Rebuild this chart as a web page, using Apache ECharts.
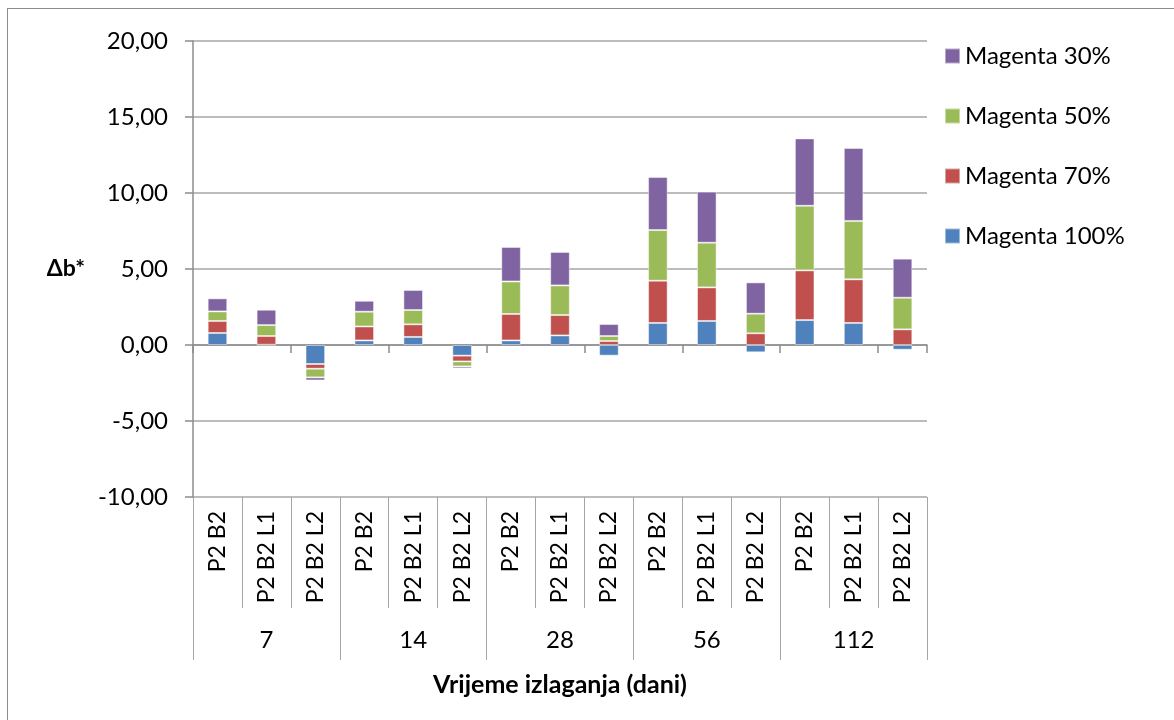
<!DOCTYPE html>
<html>
<head>
<meta charset="utf-8">
<script src="https://cdn.jsdelivr.net/npm/echarts@6/dist/echarts.min.js"></script>
<style>
html,body{margin:0;padding:0;background:#fff;overflow:hidden;}
#frame{position:absolute;left:7px;top:8px;width:1300px;height:900px;border:1px solid #8c8c8c;box-sizing:border-box;}
#chart{position:absolute;left:0;top:0;width:1174px;height:720px;}
</style>
</head>
<body>
<div id="frame"></div>
<div id="chart"></div>
<script>
const subCategories = ['P2 B2','P2 B2 L1','P2 B2 L2','P2 B2','P2 B2 L1','P2 B2 L2','P2 B2','P2 B2 L1','P2 B2 L2','P2 B2','P2 B2 L1','P2 B2 L2','P2 B2','P2 B2 L1','P2 B2 L2'];
const groupCategories = ['7','14','28','56','112'];
const magenta100 = [0.79, 0.02, -1.25, 0.30, 0.53, -0.70, 0.30, 0.63, -0.70, 1.45, 1.58, -0.48, 1.64, 1.45, -0.31];
const magenta70  = [0.79, 0.57, -0.31, 0.92, 0.83, -0.38, 1.74, 1.34, 0.26, 2.78, 2.21, 0.77, 3.27, 2.87, 1.03];
const magenta50  = [0.63, 0.72, -0.57, 0.97, 0.94, -0.33, 2.14, 1.95, 0.33, 3.33, 2.94, 1.29, 4.25, 3.84, 2.08];
const magenta30  = [0.86, 1.01, -0.20, 0.72, 1.32, -0.13, 2.27, 2.20, 0.79, 3.49, 3.36, 2.06, 4.43, 4.80, 2.57];
const yTicks = [-10, -5, 0, 5, 10, 15, 20];

const FONT = 'Lato, "Noto Sans", sans-serif';
const chart = echarts.init(document.getElementById('chart'));
const mk = (name, data, color) => ({
  name, type: 'bar', stack: 'total', data, xAxisIndex: 0,
  barWidth: '40%',
  itemStyle: {color, borderColor: 'rgba(255,255,255,0.45)', borderWidth: 1},
  emphasis: {disabled: true}
});
chart.setOption({
  animation: false,
  textStyle: {fontFamily: FONT},
  grid: {left: 193, right: 247, top: 41, bottom: 223, containLabel: false, outerBoundsMode: 'none'},
  legend: {
    orient: 'vertical', left: 944, top: 44, padding: 0,
    itemWidth: 15, itemHeight: 15, itemGap: 36, icon: 'rect',
    textStyle: {fontSize: 24, color: '#000', fontFamily: FONT},
    data: ['Magenta 30%', 'Magenta 50%', 'Magenta 70%', 'Magenta 100%']
  },
  xAxis: [
    {
      type: 'category', data: subCategories, position: 'bottom', gridIndex: 0,
      axisLine: {show: false, onZero: false},
      axisTick: {show: true, length: 111, lineStyle: {color: '#a6a6a6', width: 1}},
      axisLabel: {interval: 0, rotate: 90, margin: 14, fontSize: 23, color: '#000', fontFamily: FONT},
      splitLine: {show: false}
    },
    {
      type: 'category', data: groupCategories, position: 'bottom', gridIndex: 0,
      axisLine: {show: false, onZero: false},
      axisTick: {show: true, length: 163, lineStyle: {color: '#a6a6a6', width: 1}},
      axisLabel: {interval: 0, margin: 131, fontSize: 24, color: '#000', fontFamily: FONT},
      name: 'Vrijeme izlaganja (dani)', nameLocation: 'middle', nameGap: 175,
      nameTextStyle: {fontSize: 25, fontWeight: 'bold', color: '#000', fontFamily: FONT}
    },
    {
      type: 'category', data: subCategories, position: 'bottom', gridIndex: 0,
      axisLine: {show: true, onZero: true, lineStyle: {color: '#8c8c8c', width: 1.5}},
      axisTick: {show: true, length: 8, lineStyle: {color: '#8c8c8c', width: 1.5}},
      axisLabel: {show: false}
    }
  ],
  yAxis: {
    type: 'value', min: -10, max: 20, interval: 5,
    axisLine: {show: true, onZero: false, lineStyle: {color: '#8c8c8c', width: 1.5}},
    axisTick: {show: true, length: 8, lineStyle: {color: '#8c8c8c', width: 1.5}},
    splitLine: {show: true, lineStyle: {color: '#a6a6a6', width: 1.5}},
    axisLabel: {margin: 25, fontSize: 24, color: '#000', fontFamily: FONT,
      formatter: v => yTicks.includes(v) ? v.toFixed(2).replace('.', ',') : ''},
    name: 'Δb*', nameLocation: 'middle', nameRotate: 0, nameGap: 108,
    nameTextStyle: {fontSize: 23, fontWeight: 'bold', color: '#000', fontFamily: FONT}
  },
  series: [
    mk('Magenta 100%', magenta100, '#4F81BD'),
    mk('Magenta 70%', magenta70, '#C0504D'),
    mk('Magenta 50%', magenta50, '#9BBB59'),
    mk('Magenta 30%', magenta30, '#8064A2')
  ]
});
</script>
</body>
</html>
